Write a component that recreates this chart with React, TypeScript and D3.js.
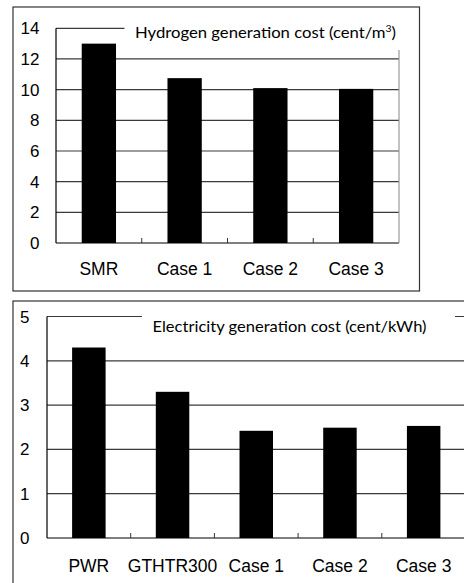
import React from "react";
import * as d3 from "d3";

const hCategories = ["SMR", "Case 1", "Case 2", "Case 3"];
const hValues = [13.0, 10.75, 10.1, 10.05];
const hTicks = [0, 2, 4, 6, 8, 10, 12, 14];

const eCategories = ["PWR", "GTHTR300", "Case 1", "Case 2", "Case 3"];
const eValues = [4.3, 3.3, 2.42, 2.49, 2.53];
const eTicks = [0, 1, 2, 3, 4, 5];

const AX = "'Liberation Sans', Arial, sans-serif";
const TF = "Lato, 'Open Sans', sans-serif";

type PanelProps = {
  cats: string[];
  vals: number[];
  ticks: number[];
  x0: number; x1: number; y0: number; y1: number;
  labelX: number; catY: number; catSize: number;
  title: React.ReactNode; titleX: number; titleY: number; titleLen: number;
  box: { x: number; y: number; w: number; h: number };
  frame: { x: number; y: number; w: number; h: number };
  rightAxis: boolean; rightTop: number;
};

function Panel(p: PanelProps) {
  const x = d3.scaleBand<string>().domain(p.cats).range([p.x0, p.x1]).paddingInner(0.6).paddingOuter(0.3);
  const y = d3.scaleLinear().domain([0, p.ticks[p.ticks.length - 1]]).range([p.y0, p.y1]);
  const step = x.step();
  const bounds = p.cats.slice(1).map((c) => (x(c) as number) - step * 0.3);
  return (
    <g>
      <rect x={p.frame.x} y={p.frame.y} width={p.frame.w} height={p.frame.h} fill="#fff" stroke="#333" strokeWidth={1.2} />
      {p.ticks.map((t) => (
        <line key={"g" + t} x1={p.x0} x2={p.x1} y1={y(t)} y2={y(t)} stroke={t === 0 ? "#000" : "#3a3a3a"} strokeWidth={1.2} />
      ))}
      {p.rightAxis && <line x1={p.x1} x2={p.x1} y1={p.rightTop} y2={p.y0} stroke="#999" strokeWidth={1.2} />}
      <line x1={p.x0} x2={p.x0} y1={y(p.ticks[p.ticks.length - 1])} y2={p.y0} stroke="#000" strokeWidth={1.2} />
      {bounds.map((b, i) => (
        <line key={"t" + i} x1={b} x2={b} y1={p.y0} y2={p.y0 - 5} stroke="#333" strokeWidth={1} />
      ))}
      {p.vals.map((v, i) => (
        <rect key={"b" + i} x={x(p.cats[i])} y={y(v)} width={x.bandwidth()} height={p.y0 - y(v)} fill="#000" />
      ))}
      <rect x={p.box.x} y={p.box.y} width={p.box.w} height={p.box.h} fill="#fff" />
      {p.ticks.map((t) => (
        <text key={"l" + t} x={p.labelX} y={y(t) + 6} textAnchor="end" fontFamily={AX} fontSize={17} fill="#000">{t}</text>
      ))}
      {p.cats.map((c) => (
        <text key={"c" + c} x={(x(c) as number) + x.bandwidth() / 2} y={p.catY} textAnchor="middle" fontFamily={AX} fontSize={p.catSize} fill="#000">{c}</text>
      ))}
      <text x={p.titleX} y={p.titleY} fontFamily={TF} fontSize={16} textLength={p.titleLen} lengthAdjust="spacingAndGlyphs" fill="#000">{p.title}</text>
    </g>
  );
}

export default function App() {
  return (
    <svg width={464} height={583} style={{ position: "absolute", left: 0, top: 0, background: "#fff" }}>
      <rect x={0} y={0} width={464} height={583} fill="#fff" />
      <Panel
        cats={hCategories} vals={hValues} ticks={hTicks}
        x0={56} x1={399} y0={243} y1={28.3}
        labelX={39.5} catY={275} catSize={17.5}
        title={<>Hydrogen generation cost (cent/m<tspan dy={-6} fontSize={10}>3</tspan><tspan dy={6}>)</tspan></>}
        titleX={135} titleY={38} titleLen={261}
        box={{ x: 124.5, y: 20, w: 280, h: 29 }}
        frame={{ x: 13, y: 7, w: 406.5, h: 284 }}
        rightAxis={true} rightTop={50}
      />
      <Panel
        cats={eCategories} vals={eValues} ticks={eTicks}
        x0={47} x1={465.5} y0={538} y1={316.5}
        labelX={29.5} catY={572} catSize={17.5}
        title={<>Electricity generation cost (cent/kWh)</>}
        titleX={152.5} titleY={332} titleLen={274}
        box={{ x: 142, y: 308, w: 313, h: 34 }}
        frame={{ x: 13, y: 301, w: 460, h: 300 }}
        rightAxis={false} rightTop={316}
      />
    </svg>
  );
}
